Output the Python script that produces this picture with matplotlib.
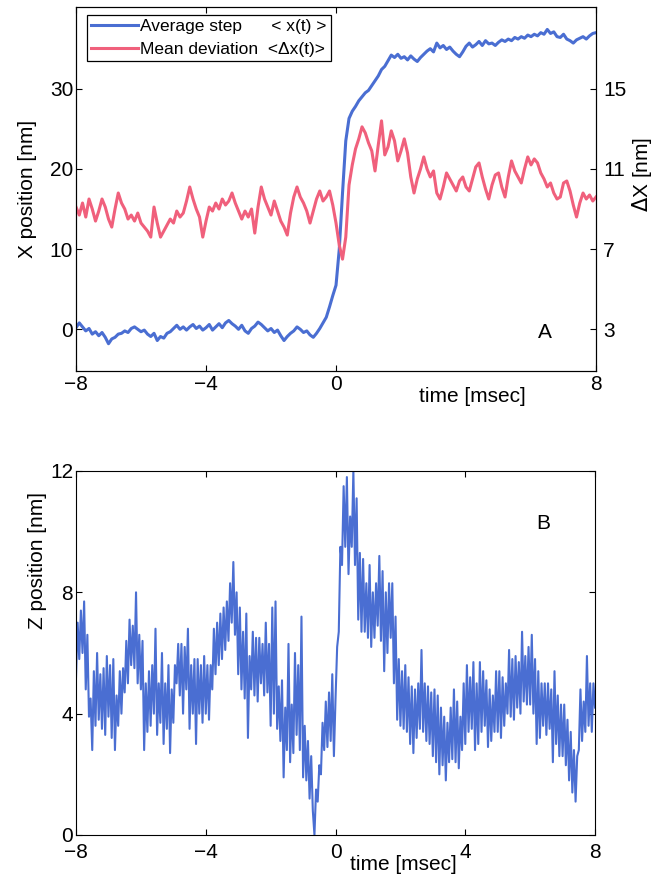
import numpy as np
import matplotlib
matplotlib.use('Agg')
import matplotlib.pyplot as plt

plt.rcParams['font.family'] = ['Liberation Sans', 'DejaVu Sans']

# panel A, sampled every 0.1 msec from -8 to 8
avg_step = [
    0.2, 0.8, 0.3, -0.2, 0.1, -0.6, -0.3, -0.8, -0.4, -1.0,
    -1.8, -1.2, -1.0, -0.6, -0.5, -0.2, -0.4, 0.1, 0.3, 0.0,
    -0.3, -0.1, -0.6, -0.9, -0.5, -1.4, -0.9, -1.1, -0.5, -0.3,
    0.1, 0.5, 0.0, 0.3, -0.1, 0.3, 0.6, 0.1, 0.4, -0.1,
    0.2, 0.6, -0.1, 0.3, 0.7, 0.2, 0.8, 1.1, 0.7, 0.4,
    0.0, 0.5, -0.2, -0.5, 0.1, 0.4, 0.9, 0.6, 0.2, -0.2,
    0.1, -0.4, -0.1, -0.8, -1.4, -0.9, -0.5, -0.2, 0.3, 0.0,
    -0.4, -0.2, -0.7, -1.0, -0.5, 0.1, 0.8, 1.5, 2.8, 4.2,
    5.5, 10.0, 17.0, 23.5, 26.3, 27.2, 27.8, 28.5, 29.0, 29.5,
    29.8, 30.4, 31.0, 31.6, 32.4, 32.8, 33.5, 34.2, 33.9, 34.3,
    33.8, 34.0, 33.6, 34.1, 33.7, 33.4, 33.9, 34.3, 34.7, 35.0,
    34.6, 35.7, 35.1, 35.4, 34.9, 35.2, 34.7, 34.3, 34.0, 34.6,
    35.3, 35.7, 35.2, 35.5, 35.9, 35.4, 36.0, 35.6, 35.7, 35.4,
    35.8, 36.1, 35.9, 36.2, 36.0, 36.4, 36.2, 36.5, 36.3, 36.7,
    36.5, 36.8, 36.6, 37.0, 36.8, 37.4, 36.9, 37.1, 36.5, 36.4,
    36.8, 36.2, 36.0, 35.7, 36.1, 36.3, 36.5, 36.2, 36.6, 36.9,
    37.0,
]

mean_dev = [
    9.1, 8.7, 9.3, 8.6, 9.5, 9.0, 8.4, 8.9, 9.5, 9.1,
    8.5, 8.1, 9.0, 9.8, 9.3, 9.0, 8.5, 8.7, 8.4, 8.8,
    8.3, 8.1, 7.9, 7.6, 9.1, 8.3, 7.6, 7.9, 8.2, 8.5,
    8.3, 8.9, 8.6, 8.8, 9.4, 10.1, 9.5, 9.0, 8.6, 7.6,
    8.4, 9.1, 8.9, 9.3, 9.0, 9.5, 9.2, 9.4, 9.8, 9.3,
    8.9, 8.5, 8.9, 8.6, 9.0, 7.8, 9.1, 10.1, 9.5, 9.1,
    8.7, 9.4, 8.9, 8.4, 8.1, 7.7, 8.8, 9.6, 10.1, 9.6,
    9.3, 8.9, 8.3, 8.9, 9.5, 9.9, 9.4, 9.6, 9.9, 9.2,
    8.3, 7.2, 6.5, 7.6, 10.2, 11.2, 12.0, 12.5, 13.1, 12.8,
    12.3, 11.9, 10.9, 12.2, 13.4, 11.7, 12.1, 12.9, 12.4, 11.4,
    11.9, 12.5, 11.8, 10.6, 9.8, 10.5, 11.0, 11.6, 11.0, 10.6,
    10.9, 9.8, 9.5, 10.1, 10.8, 10.5, 10.2, 9.9, 10.4, 10.6,
    10.1, 9.9, 10.5, 11.1, 11.3, 10.6, 10.0, 9.5, 10.2, 10.7,
    10.8, 10.1, 9.6, 10.6, 11.4, 10.9, 10.6, 10.3, 11.0, 11.6,
    11.2, 11.5, 11.3, 10.8, 10.5, 10.1, 10.3, 9.8, 9.5, 9.6,
    10.3, 10.4, 9.9, 9.2, 8.6, 9.3, 9.8, 9.5, 9.7, 9.4,
    9.6,
]

# panel B, sampled every 0.05 msec from -8 to 8
z_pos = [
    5.2, 7.0, 5.8, 7.4, 6.0, 7.7, 4.8, 6.6, 3.9, 4.5, 2.8, 5.4, 3.6, 6.0, 3.8, 5.3, 3.5, 5.5, 3.3, 5.9,
    3.9, 5.6, 3.2, 5.8, 2.8, 4.6, 3.6, 5.4, 4.0, 5.5, 4.7, 6.4, 5.0, 7.1, 5.6, 6.9, 5.5, 8.0, 5.0, 6.6,
    4.8, 6.4, 2.8, 5.0, 3.4, 5.4, 3.6, 5.6, 4.0, 6.8, 3.3, 5.0, 3.7, 6.0, 3.0, 5.0, 3.5, 5.6, 2.7, 4.8,
    3.7, 5.6, 5.0, 6.3, 4.6, 6.3, 4.0, 6.2, 4.8, 6.8, 3.5, 5.6, 4.0, 5.8, 3.0, 5.8, 4.0, 5.6, 3.7, 5.9,
    4.0, 5.6, 3.8, 5.6, 4.8, 6.8, 5.3, 7.0, 5.6, 7.3, 5.8, 7.5, 6.1, 7.7, 6.4, 8.3, 7.0, 9.0, 6.6, 8.0,
    5.3, 7.5, 4.8, 6.7, 4.5, 7.3, 3.2, 5.9, 4.8, 6.7, 4.6, 6.5, 4.4, 6.5, 5.0, 6.3, 4.6, 7.0, 4.7, 6.3,
    3.6, 7.5, 4.0, 7.7, 3.5, 4.9, 3.1, 5.1, 1.9, 4.2, 2.8, 6.3, 2.4, 4.3, 2.7, 6.0, 3.3, 5.6, 2.8, 7.2,
    1.9, 3.6, 1.8, 3.1, 1.2, 2.6, 0.8, 0.0, 1.5, 1.1, 2.3, 2.0, 3.7, 2.8, 4.4, 2.9, 4.7, 3.1, 5.3, 2.6,
    4.5, 6.2, 6.7, 9.5, 8.9, 11.5, 9.5, 11.8, 8.6, 10.5, 9.5, 12.0, 8.9, 11.1, 7.1, 9.3, 6.7, 9.1, 6.7, 8.3,
    6.5, 8.9, 6.2, 8.0, 6.5, 8.3, 6.9, 9.2, 6.4, 8.7, 5.4, 8.0, 6.0, 8.3, 6.5, 8.3, 5.0, 7.2, 3.8, 5.8,
    3.6, 5.4, 3.5, 5.6, 3.4, 5.2, 3.0, 4.9, 2.7, 4.8, 3.2, 5.0, 3.5, 6.1, 3.4, 5.0, 3.1, 4.9, 3.0, 4.7,
    2.6, 4.8, 2.4, 4.6, 2.0, 4.2, 2.3, 3.9, 1.8, 3.7, 2.4, 4.2, 2.5, 4.8, 2.4, 4.4, 2.2, 3.9, 2.8, 5.0,
    3.0, 5.6, 3.4, 5.2, 3.5, 5.7, 2.8, 5.0, 3.0, 5.7, 3.4, 5.4, 3.6, 5.1, 2.9, 4.8, 3.1, 4.6, 3.4, 5.4,
    3.4, 5.4, 3.2, 5.2, 3.6, 5.0, 4.0, 6.1, 3.9, 5.8, 3.8, 5.9, 4.2, 5.7, 4.0, 6.7, 4.4, 5.9, 4.3, 6.2,
    4.3, 6.6, 4.0, 5.8, 3.0, 5.4, 3.2, 5.0, 3.6, 5.0, 3.3, 5.0, 3.5, 4.8, 2.4, 5.4, 3.0, 4.6, 2.6, 4.3,
    2.6, 4.3, 2.3, 3.8, 1.8, 3.4, 1.4, 2.8, 1.1, 2.6, 2.8, 4.8, 3.1, 4.4, 3.4, 5.9, 3.6, 5.0, 3.4, 5.0,
    4.2,
]

t_a = np.linspace(-8, 8, len(avg_step))
t_b = np.linspace(-8, 8, len(z_pos))

blue = '#4a6ed2'
red = '#f0607c'

fig = plt.figure(figsize=(6.57, 8.85), dpi=100)

# --- panel A ---
ax = fig.add_axes([0.1157, 0.5808, 0.7915, 0.4113])
ax2 = ax.twinx()
l1, = ax.plot(t_a, avg_step, color=blue, lw=2.2)
l2, = ax2.plot(t_a, mean_dev, color=red, lw=2.2)

ax.set_xlim(-8, 8)
ax.set_ylim(-5.2, 40.2)
ax2.set_ylim(3 + 0.4 * -5.2, 3 + 0.4 * 40.2)
ax.set_xticks([-8, -4, 0, 8])
ax.set_yticks([0, 10, 20, 30])
ax2.set_yticks([3, 7, 11, 15])
ax.tick_params(direction='in', length=4, labelsize=15, top=True, pad=3)
ax.tick_params(axis='y', pad=2)
ax2.tick_params(direction='in', length=4, labelsize=15, pad=5)
ax.set_ylabel('X position [nm]', fontsize=15)
ax.yaxis.set_label_coords(-0.075, 0.5)
ax2.set_ylabel(r'$\Delta$X [nm]', fontsize=15)
ax2.yaxis.set_label_coords(1.066, 0.54)
ax.text(0.763, -0.071, 'time [msec]', transform=ax.transAxes,
        ha='center', va='center', fontsize=15)
ax.text(0.902, 0.107, 'A', transform=ax.transAxes,
        ha='center', va='center', fontsize=15)

leg = ax2.legend([l1, l2], ['Average step      < x(t) >', 'Mean deviation  <\u0394x(t)>'],
                 loc='upper left', bbox_to_anchor=(11 / 520, 1 - 8 / 364),
                 borderaxespad=0, fontsize=12.5, handlelength=2.7, handletextpad=0.1,
                 labelspacing=0.4, borderpad=0.25, fancybox=False, framealpha=1)
leg.get_frame().set_edgecolor('black')
leg.get_frame().set_linewidth(0.9)

# --- panel B ---
bx = fig.add_axes([0.1157, 0.0565, 0.790, 0.4113])
bx.plot(t_b, z_pos, color=blue, lw=1.5)
bx.set_xlim(-8, 8)
bx.set_ylim(0, 12)
bx.set_xticks([-8, -4, 0, 4, 8])
bx.set_yticks([0, 4, 8, 12])
bx.tick_params(direction='in', length=4, labelsize=15, top=True, right=True, pad=2)
bx.tick_params(axis='x', pad=6)
bx.set_ylabel('Z position [nm]', fontsize=15)
bx.yaxis.set_label_coords(-0.056, 0.753)
bx.text(0.63, -0.082, 'time [msec]', transform=bx.transAxes,
        ha='center', va='center', fontsize=15)
bx.text(0.9, 0.857, 'B', transform=bx.transAxes,
        ha='center', va='center', fontsize=15)

for a in (ax, ax2, bx):
    for s in a.spines.values():
        s.set_linewidth(0.8)

fig.savefig('out.png', dpi=100)
